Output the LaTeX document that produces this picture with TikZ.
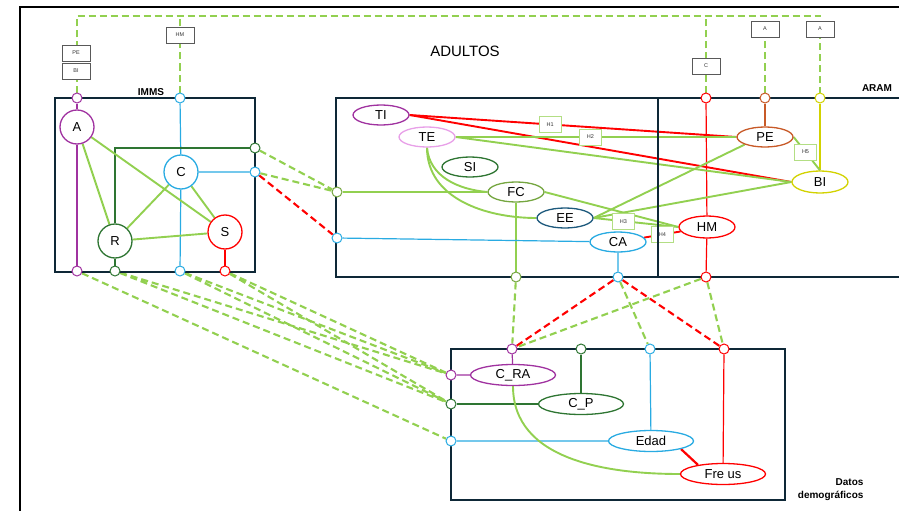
\documentclass[tikz,border=0pt]{standalone}
\usepackage{fontspec}
\setmainfont{Liberation Sans}
\usetikzlibrary{shapes.geometric,backgrounds}
\definecolor{lgreen}{RGB}{146,208,80}
\definecolor{dgreen}{RGB}{46,117,50}
\definecolor{vpurple}{RGB}{160,50,160}
\definecolor{cblue}{RGB}{41,171,226}
\definecolor{vpink}{RGB}{232,160,232}
\definecolor{vteal}{RGB}{30,90,125}
\definecolor{vbrown}{RGB}{200,90,40}
\definecolor{vyellow}{RGB}{210,210,0}
\definecolor{navy}{RGB}{14,40,55}
\begin{document}
\begin{tikzpicture}[x=1pt,y=-1pt,
    frame/.style={draw=navy,line width=2.6pt},
    port/.style={circle,draw,fill=white,line width=1pt,inner sep=0pt,minimum size=10pt},
    var/.style={circle,draw,fill=white,line width=1.3pt,inner sep=0pt,minimum size=34pt,font=\fontsize{13}{15}\selectfont},
    ovar/.style={ellipse,draw,fill=white,line width=1.3pt,inner sep=0pt,minimum width=56pt,minimum height=20pt,font=\fontsize{13}{15}\selectfont},
    dvar/.style={ovar,minimum width=85pt,minimum height=21pt},
    tag/.style={draw=gray!70!black,fill=white,text=black!80,line width=0.6pt,inner sep=0pt,minimum width=28pt,minimum height=16pt,font=\fontsize{5.5}{6}\selectfont},
    hyp/.style={tag,draw=lgreen!70!white,minimum width=22pt},
    thin/.style={line width=1.2pt},
    link/.style={lgreen,line width=1.9pt},
    dlink/.style={lgreen,line width=2.1pt,dash pattern=on 7pt off 4pt},
    rlink/.style={red,line width=2.1pt,dash pattern=on 7pt off 4pt},
    lab/.style={font=\bfseries\fontsize{10}{13}\selectfont}]
    \useasboundingbox (0,0) rectangle (899,511);
    \draw[line width=1.8pt] (20,511) -- (20,7) -- (899,7);
    \draw[frame] (55,98) rectangle (255,272);
    \draw[frame] (336,98) rectangle (658,277);
    \draw[frame] (658,98) -- (899,98) (658,277) -- (899,277);
    \draw[frame] (451,349) rectangle (785,500);
    \node[lab] (imms) at (151,92) {IMMS};
    \node[font=\fontsize{15}{18}\selectfont] (adultos) at (465,51) {ADULTOS};
    \node[lab] (aram) at (877,88) {ARAM};
    \node[lab,align=right,anchor=east] (datos) at (867,490) {Datos\\demográficos};
    \node[var,draw=vpurple] (A) at (77,127) {A};
    \node[var,draw=cblue] (C) at (181,172) {C};
    \node[var,draw=dgreen] (R) at (115,241) {R};
    \node[var,draw=red] (S) at (225,232) {S};
    \node[port,draw=vpurple] (pAt) at (77,98) {};
    \node[port,draw=vpurple] (pAb) at (77,271) {};
    \node[port,draw=cblue] (pCt) at (180,98) {};
    \node[port,draw=cblue] (pCb) at (180,271) {};
    \node[port,draw=cblue] (pCr) at (255,172) {};
    \node[port,draw=dgreen] (pRb) at (115,271) {};
    \node[port,draw=dgreen] (pRr) at (255,148) {};
    \node[port,draw=red] (pSb) at (225,271) {};
    \node[ovar,draw=vpurple] (TI) at (381,115) {TI};
    \node[ovar,draw=vpink] (TE) at (427,137) {TE};
    \node[ovar,draw=dgreen] (SI) at (470,167) {SI};
    \node[ovar,draw=lgreen!80!black] (FC) at (516,192) {FC};
    \node[ovar,draw=vteal] (EE) at (565,218) {EE};
    \node[ovar,draw=cblue] (CA) at (618,242) {CA};
    \node[ovar,draw=red,minimum height=22pt] (HM) at (707,227) {HM};
    \node[ovar,draw=vbrown] (PE) at (765,137) {PE};
    \node[ovar,draw=vyellow,minimum height=22pt] (BI) at (820,182) {BI};
    \node[port,draw=lgreen!80!black] (pFCl) at (337,192) {};
    \node[port,draw=cblue] (pCAl) at (337,238) {};
    \node[port,draw=lgreen!80!black] (pFCb) at (516,277) {};
    \node[port,draw=cblue] (pCAb) at (618,277) {};
    \node[port,draw=red] (pHMb) at (706,277) {};
    \node[port,draw=red] (pHMt) at (706,98) {};
    \node[port,draw=vbrown] (pPEt) at (765,98) {};
    \node[port,draw=vyellow] (pBIt) at (820,98) {};
    \node[dvar,draw=vpurple] (CRA) at (513,375) {C\_RA};
    \node[dvar,draw=dgreen] (CP) at (581,404) {C\_P};
    \node[dvar,draw=cblue] (Edad) at (651,441) {Edad};
    \node[dvar,draw=red] (Freus) at (723,474) {Fre us};
    \node[port,draw=vpurple] (pCRAt) at (512,349) {};
    \node[port,draw=dgreen] (pCPt) at (581,349) {};
    \node[port,draw=cblue] (pEdt) at (650,349) {};
    \node[port,draw=red] (pFrt) at (724,349) {};
    \node[port,draw=vpurple] (pCRAl) at (451,375) {};
    \node[port,draw=dgreen] (pCPl) at (451,404) {};
    \node[port,draw=cblue] (pEdl) at (451,441) {};
    \coordinate (tl) at (77,16);
    \coordinate (tr) at (820,16);
    \node[tag] (tPE) at (76,53) {PE};
    \node[tag] (tBI) at (76,71) {BI};
    \node[tag] (tHM) at (180,35) {HM};
    \node[tag] (tC) at (706,66) {C};
    \node[tag] (tA1) at (765,29) {A};
    \node[tag] (tA2) at (820,29) {A};
    \begin{pgfonlayer}{background}
        \draw[dlink,line width=2.6pt] (pAt) -- (tl) -- (tr) -- (pBIt);
        \draw[dlink,line width=2.6pt] (pCt) -- (pCt |- tl);
        \draw[dlink,line width=2.6pt] (pHMt) -- (pHMt |- tl);
        \draw[dlink,line width=2.6pt] (pPEt) -- (tA1);
        \draw[vpurple,thin] (pAt) -- (A) -- (pAb);
        \draw[cblue,thin] (pCt) -- (C) -- (pCb) (C) -- (pCr);
        \draw[dgreen,thin] (R) |- (pRr) (R) -- (pRb);
        \draw[red,thin] (S) -- (pSb);
        \draw[link] (A) -- (R) (A) -- (S) (C) -- (R) (C) -- (S) (R) -- (S);
        \draw[dlink] (pRr) -- (pFCl) (pCr) -- (pFCl);
        \draw[rlink] (pCr) -- (pCAl);
        \draw[lgreen,thin] (pFCl) -- (FC) -- (pFCb);
        \draw[cblue,thin] (pCAl) -- (CA) -- (pCAb);
        \draw[red,thin] (pHMt) -- (HM) -- (pHMb);
        \draw[vbrown,thin] (pPEt) -- (PE);
        \draw[vyellow,thin] (pBIt) -- (BI);
        \draw[red,line width=1.9pt] (TI.east) -- node[hyp,pos=0.43] (H1) {H1} (PE.west);
        \draw[red,line width=1.9pt] (TI.east) -- (BI.west);
        \draw[link] (TE.east) -- node[hyp,pos=0.48] (H2) {H2} (PE.west);
        \draw[link] (TE.east) -- (BI.west);
        \draw[link] (TE.south) to[out=-85,in=175] (FC.west);
        \draw[link] (TE.south) to[out=-90,in=180] (EE.west);
        \draw[link] (FC.east) -- (HM.west);
        \draw[link] (EE.east) -- (PE.south west);
        \draw[link] (EE.east) -- (BI.west);
        \draw[link] (EE.east) -- node[hyp,pos=0.35] (H3) {H3} (HM.west);
        \draw[red,line width=1.9pt] (CA) -- node[hyp,pos=0.5] (H4) {H4} (HM);
        \draw[link] (PE.east) -- node[hyp,pos=0.45] (H5) {H5} (BI.north);
        \draw[vpurple,thin] (pCRAt) -- (CRA) -- (pCRAl);
        \draw[dgreen,thin] (pCPt) -- (CP) -- (pCPl);
        \draw[cblue,thin] (pEdt) -- (Edad) -- (pEdl);
        \draw[red,thin] (pFrt) -- (Freus);
        \draw[red,line width=2.2pt] (Edad.-15) -- (Freus.160);
        \draw[link] (CRA.south) to[out=-90,in=180] (Freus.west);
        \draw[dlink] (pFCb) -- (pCRAt);
        \draw[rlink] (pCAb) -- (pCRAt) (pCAb) -- (pFrt);
        \draw[dlink] (pCAb) -- (pEdt) (pHMb) -- (pCRAt) (pHMb) -- (pFrt);
        \draw[dlink] (pAb) -- (pEdl);
        \draw[dlink] (pRb) -- (pCRAl) (pRb) -- (pCPl);
        \draw[dlink] (pCb) -- (pCRAl) (pCb) -- (pCPl);
        \draw[dlink] (pSb) -- (pCRAl) (pSb) -- (pCPl);
    \end{pgfonlayer}
\end{tikzpicture}
\end{document}
